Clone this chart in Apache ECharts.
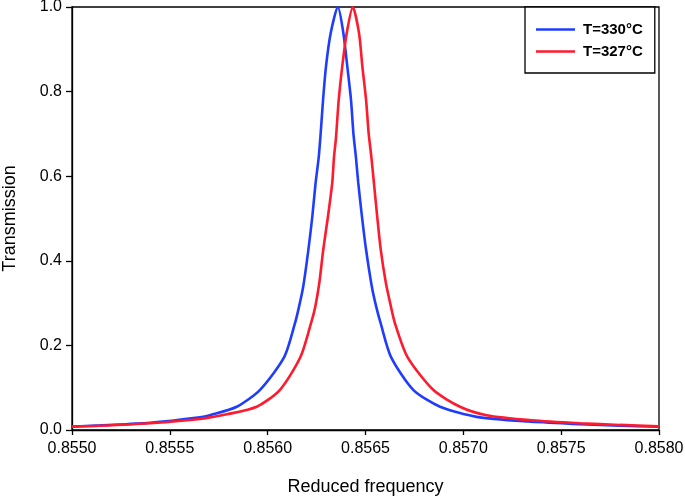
<!DOCTYPE html>
<html>
<head>
<meta charset="utf-8">
<script src="https://cdn.jsdelivr.net/npm/echarts@6/dist/echarts.min.js"></script>
<style>
html,body{margin:0;padding:0;background:#fff;}
#chart{width:685px;height:499px;}
</style>
</head>
<body>
<div id="chart"></div>
<script>
// Series names
const seriesNames = ['T=330°C', 'T=327°C'];

// T=330°C (blue)
const blueX = [0.855000, 0.855143, 0.855399, 0.855654, 0.855705, 0.855842, 0.855961, 0.856085, 0.856140, 0.856160, 0.856182, 0.856208, 0.856228, 0.856245, 0.856261, 0.856271, 0.856283, 0.856298, 0.856322, 0.856359, 0.856387, 0.856407, 0.856426, 0.856438, 0.856451, 0.856463, 0.856482, 0.856503, 0.856532, 0.856555, 0.856577, 0.856630, 0.856744, 0.856881, 0.857068, 0.857330, 0.857596, 0.857800, 0.858000];
const blueY = [0.008, 0.011, 0.017, 0.030, 0.035, 0.055, 0.095, 0.173, 0.253, 0.291, 0.340, 0.426, 0.504, 0.584, 0.645, 0.702, 0.780, 0.859, 0.938, 1.000, 0.938, 0.859, 0.780, 0.702, 0.645, 0.584, 0.504, 0.426, 0.340, 0.291, 0.253, 0.173, 0.095, 0.055, 0.031, 0.020, 0.014, 0.010, 0.008];

// T=327°C (red)
const redX = [0.855000, 0.855143, 0.855399, 0.855654, 0.855791, 0.855944, 0.856063, 0.856168, 0.856222, 0.856243, 0.856264, 0.856284, 0.856308, 0.856330, 0.856339, 0.856349, 0.856363, 0.856381, 0.856404, 0.856435, 0.856467, 0.856484, 0.856503, 0.856516, 0.856530, 0.856543, 0.856560, 0.856578, 0.856604, 0.856626, 0.856650, 0.856714, 0.856846, 0.856983, 0.857119, 0.857350, 0.857596, 0.857800, 0.858000];
const redY = [0.008, 0.010, 0.016, 0.026, 0.037, 0.055, 0.095, 0.173, 0.253, 0.291, 0.348, 0.426, 0.504, 0.584, 0.645, 0.690, 0.780, 0.859, 0.938, 1.000, 0.938, 0.859, 0.780, 0.702, 0.645, 0.584, 0.504, 0.426, 0.348, 0.300, 0.253, 0.173, 0.095, 0.055, 0.035, 0.023, 0.016, 0.012, 0.009];

// Axis settings
const xMin = 0.8550, xMax = 0.8580, xStep = 0.0005;
const yMin = 0, yMax = 1.0, yStep = 0.2;
const xTitle = 'Reduced frequency';
const yTitle = 'Transmission';

const FONT = '"Liberation Sans", Arial, sans-serif';
const chart = echarts.init(document.getElementById('chart'), null, {renderer: 'canvas'});

function pairs(xs, ys) { return xs.map((x, i) => [x, ys[i]]); }

chart.setOption({
  animation: false,
  backgroundColor: '#ffffff',
  grid: {
    left: 72, right: 26, top: 7, bottom: 69,
    outerBoundsMode: 'none', containLabel: false,
    show: true, borderColor: '#000', borderWidth: 1.3, backgroundColor: 'transparent'
  },
  legend: {
    left: 525, top: 7,
    orient: 'vertical',
    backgroundColor: '#fff',
    borderColor: '#000', borderWidth: 1.3,
    padding: [15, 12, 14, 11],
    itemWidth: 39, itemHeight: 14, itemGap: 7,
    textStyle: { fontFamily: FONT, fontSize: 15, fontWeight: 'bold', color: '#000', padding: [0, 0, 0, 3] },
    data: seriesNames.map(n => ({ name: n, icon: 'path://M0,6 L39,6 L39,8.5 L0,8.5 Z' }))
  },
  xAxis: {
    type: 'value', min: xMin, max: xMax, interval: xStep,
    name: xTitle, nameLocation: 'middle', nameGap: 48,
    nameTextStyle: { fontFamily: FONT, fontSize: 18, color: '#000' },
    axisLine: { show: true, onZero: false, lineStyle: { color: '#000', width: 1.3 } },
    axisTick: { show: true, inside: false, length: 5, lineStyle: { color: '#000', width: 1.3 } },
    axisLabel: { fontFamily: FONT, fontSize: 16, color: '#000', margin: 11, formatter: v => v.toFixed(4) },
    splitLine: { show: false }
  },
  yAxis: {
    type: 'value', min: yMin, max: yMax, interval: yStep,
    name: yTitle, nameLocation: 'middle', nameGap: 53, nameRotate: 90,
    nameTextStyle: { fontFamily: FONT, fontSize: 18, color: '#000' },
    axisLine: { show: true, lineStyle: { color: '#000', width: 1.3 } },
    axisTick: { show: true, inside: false, length: 6, lineStyle: { color: '#000', width: 1.3 } },
    axisLabel: { fontFamily: FONT, fontSize: 16, color: '#000', margin: 10, formatter: v => v.toFixed(1) },
    splitLine: { show: false }
  },
  series: [
    {
      name: seriesNames[0], type: 'line', data: pairs(blueX, blueY),
      symbol: 'none', smooth: 0.25, clip: true,
      lineStyle: { color: '#1f3dff', width: 2.6 }, itemStyle: { color: '#1f3dff' }
    },
    {
      name: seriesNames[1], type: 'line', data: pairs(redX, redY),
      symbol: 'none', smooth: 0.25, clip: true,
      lineStyle: { color: '#ff1a2e', width: 2.6 }, itemStyle: { color: '#ff1a2e' }
    }
  ]
});
</script>
</body>
</html>
